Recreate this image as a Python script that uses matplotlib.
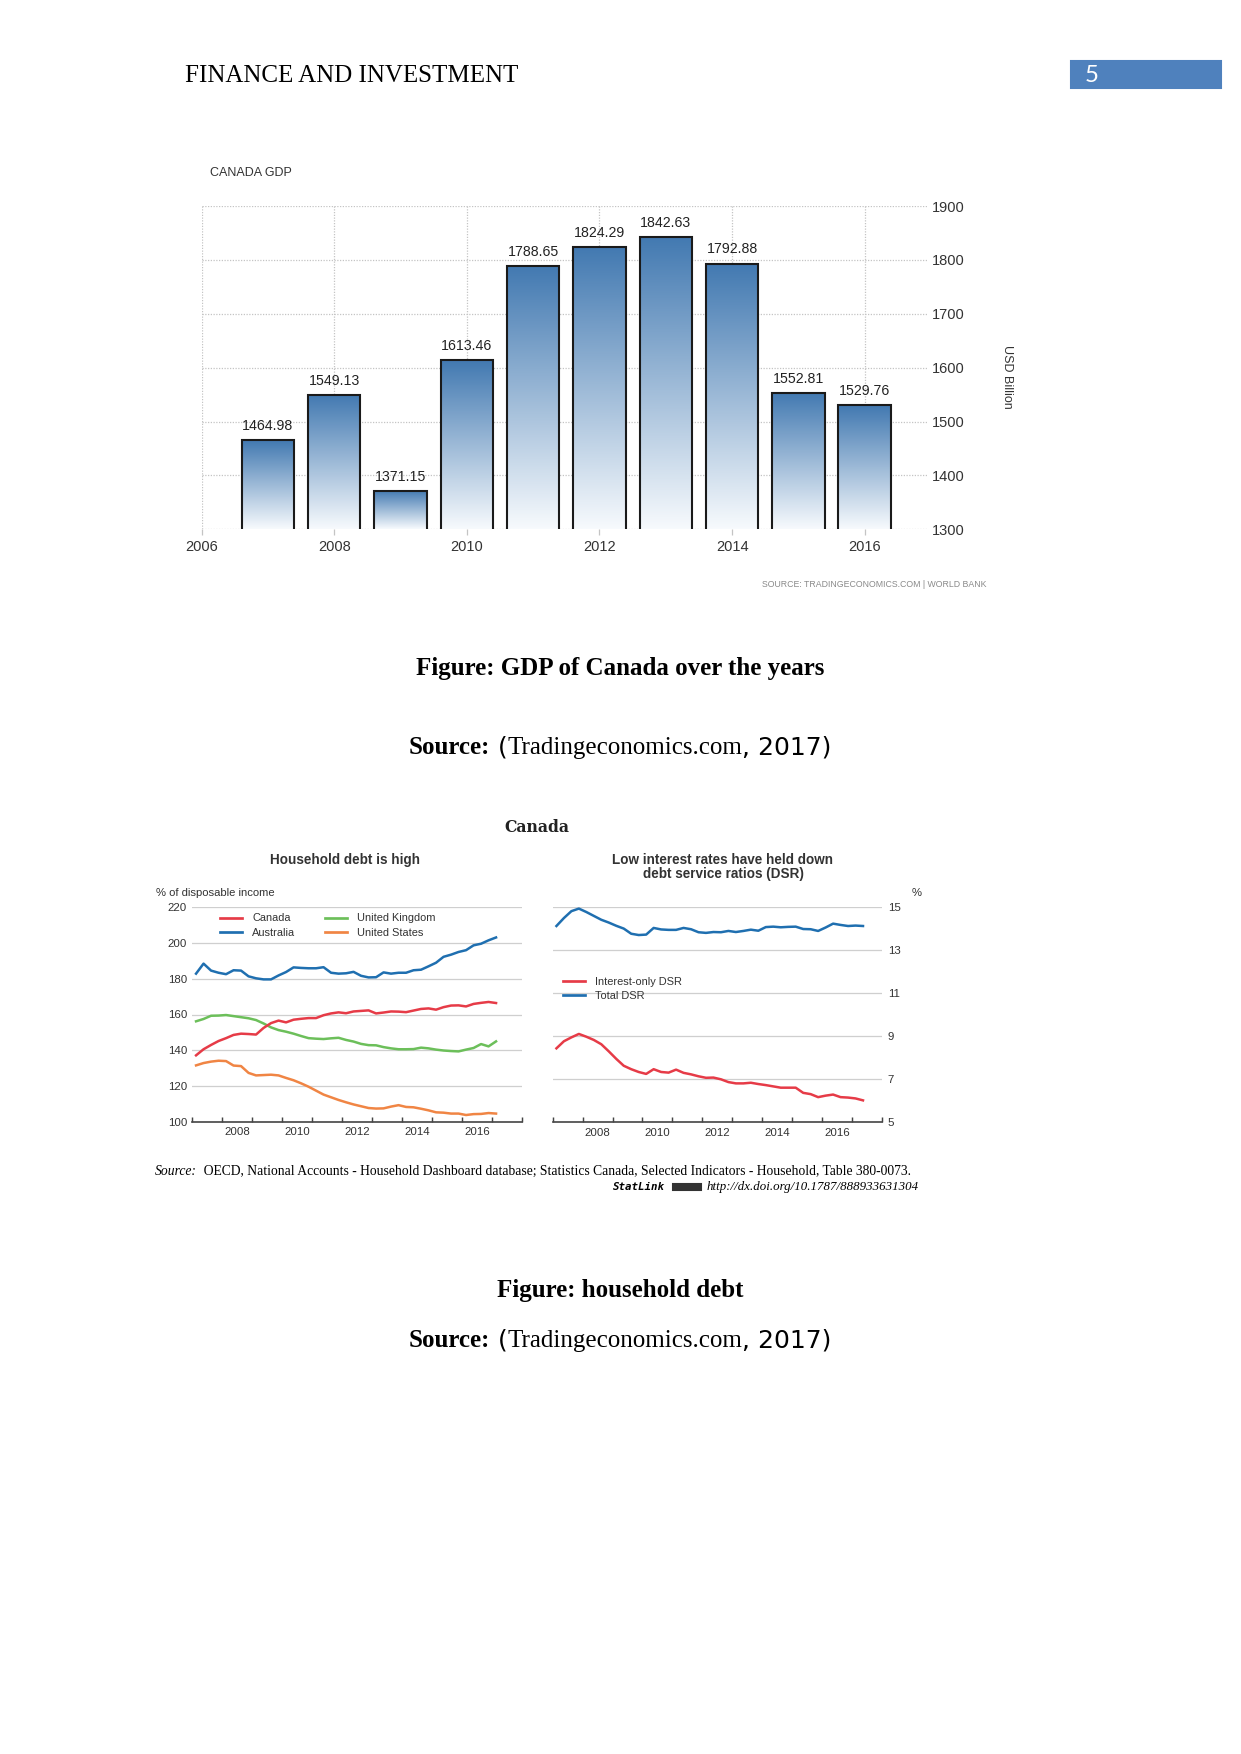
import matplotlib
matplotlib.use("Agg")
import matplotlib.pyplot as plt
import numpy as np
import pandas as pd
from matplotlib.colors import LinearSegmentedColormap
from matplotlib.patches import Rectangle
from matplotlib.lines import Line2D

W, H, DPI = 1241, 1754, 150

# Canada GDP, USD billion
gdp_years = [2007, 2008, 2009, 2010, 2011, 2012, 2013, 2014, 2015, 2016]
gdp_values = [1464.98, 1549.13, 1371.15, 1613.46, 1788.65, 1824.29, 1842.63, 1792.88, 1552.81, 1529.76]
gdp_xticks = [2006, 2008, 2010, 2012, 2014, 2016]
gdp_yticks = [1300, 1400, 1500, 1600, 1700, 1800, 1900]

# household debt, % of disposable income, quarterly 2007Q1-2017Q1
debt_quarters = pd.period_range("2007Q1", "2017Q1", freq="Q")
canada = [137.2, 140.6, 143.0, 145.2, 146.8, 148.6, 149.3, 149.1, 148.8, 152.5, 155.2,
          156.6, 155.6, 157.1, 157.6, 158.0, 158.0, 159.6, 160.6, 161.2, 160.7, 161.7,
          162.0, 162.3, 160.6, 161.1, 161.7, 161.6, 161.3, 162.2, 163.1, 163.4, 162.7,
          164.1, 165.0, 165.1, 164.5, 165.9, 166.5, 167.0, 166.4]
australia = [182.8, 188.4, 184.5, 183.3, 182.5, 184.7, 184.5, 181.3, 180.2, 179.6, 179.6,
             181.8, 183.7, 186.3, 186.0, 185.8, 185.8, 186.4, 183.3, 182.8, 183.0, 183.8,
             181.6, 180.7, 180.8, 183.5, 182.8, 183.3, 183.3, 184.7, 185.0, 186.9, 188.9,
             192.2, 193.4, 194.9, 195.9, 198.6, 199.5, 201.4, 203.0]
uk = [156.2, 157.5, 159.3, 159.4, 159.7, 159.1, 158.5, 157.9, 156.9, 155.0, 152.8,
      151.3, 150.4, 149.3, 148.0, 146.8, 146.5, 146.3, 146.7, 147.0, 145.8, 144.9,
      143.6, 142.9, 142.8, 141.8, 141.1, 140.6, 140.6, 140.7, 141.5, 141.1, 140.4,
      139.9, 139.6, 139.4, 140.4, 141.3, 143.5, 142.2, 145.0]
us = [131.6, 132.9, 133.7, 134.2, 134.0, 131.5, 131.2, 127.4, 126.0, 126.2, 126.4,
      126.0, 124.6, 123.3, 121.6, 119.7, 117.5, 115.3, 113.8, 112.3, 111.0, 109.8,
      108.8, 107.8, 107.5, 107.6, 108.6, 109.4, 108.4, 108.2, 107.4, 106.5, 105.4,
      105.2, 104.7, 104.7, 103.9, 104.4, 104.5, 105.0, 104.7]

# debt service ratios, %, quarterly 2007Q1-2017Q2
dsr_quarters = pd.period_range("2007Q1", "2017Q2", freq="Q")
interest_dsr = [8.44, 8.77, 8.95, 9.11, 8.98, 8.83, 8.63, 8.30, 7.95, 7.63, 7.47, 7.34,
                7.25, 7.47, 7.34, 7.31, 7.45, 7.30, 7.23, 7.14, 7.07, 7.08, 7.00, 6.87,
                6.81, 6.81, 6.84, 6.78, 6.73, 6.67, 6.61, 6.61, 6.61, 6.37, 6.31, 6.17,
                6.24, 6.29, 6.17, 6.15, 6.11, 6.02]
total_dsr = [14.13, 14.50, 14.82, 14.94, 14.78, 14.60, 14.42, 14.29, 14.14, 14.01, 13.77,
             13.71, 13.73, 14.04, 13.97, 13.95, 13.95, 14.04, 13.98, 13.84, 13.81, 13.85,
             13.84, 13.90, 13.85, 13.90, 13.96, 13.91, 14.08, 14.10, 14.07, 14.09, 14.10,
             13.99, 13.98, 13.90, 14.06, 14.24, 14.18, 14.13, 14.15, 14.13]
year_labels = ["2008", "2010", "2012", "2014", "2016"]

RED, BLUE, GREEN, ORANGE = "#e63b47", "#1f6fb0", "#6cbf5a", "#f08544"
SERIF = ["Liberation Serif", "DejaVu Serif"]
SANS = ["Liberation Sans", "DejaVu Sans"]

plt.rcParams["font.family"] = SANS

fig = plt.figure(figsize=(W / DPI, H / DPI), dpi=DPI)


def box(x0, y0, x1, y1):
    return [x0 / W, 1 - y1 / H, (x1 - x0) / W, (y1 - y0) / H]


def put(x, y, s, **kw):
    return fig.text(x / W, 1 - y / H, s, **kw)


def segments(x, y, parts, ha="left"):
    r = fig.canvas.get_renderer()
    arts = [fig.text(0, 0, s, va="center", **kw) for s, kw in parts]
    widths = [a.get_window_extent(r).width for a in arts]
    total = sum(widths)
    cur = {"left": x, "center": x - total / 2, "right": x - total}[ha]
    starts = []
    for a, w in zip(arts, widths):
        a.set_position((cur / W, 1 - y / H))
        starts.append(cur)
        cur += w
    return starts, widths


# page header
put(185, 76, "FINANCE AND INVESTMENT", family=SERIF, fontsize=12, va="center")
fig.patches.append(Rectangle((1071 / W, 1 - 88.4 / H), 150 / W, 27 / H,
                             transform=fig.transFigure, color="#4f81bd"))
put(1085, 76, "5", family=["Lato", "DejaVu Sans"], fontsize=11.5, color="white", va="center")

# ---------------- GDP chart
ax1 = fig.add_axes(box(201.7, 206, 928, 529.3))
cmap = LinearSegmentedColormap.from_list("gdp", ["#f7fafd", "#4279b1"])
bars = ax1.bar(gdp_years, gdp_values, width=0.79, color="none",
               edgecolor="#1a1a1a", linewidth=1.0, zorder=3)
grad = np.linspace(0, 1, 256).reshape(-1, 1)
for b, v in zip(bars, gdp_values):
    x0 = b.get_x()
    ax1.imshow(grad, extent=(x0, x0 + b.get_width(), 1300, v), origin="lower",
               cmap=cmap, aspect="auto", zorder=2)
    ax1.annotate(f"{v:.2f}", (x0 + b.get_width() / 2, v), xytext=(0, 3.5),
                 textcoords="offset points", ha="center", va="bottom",
                 fontsize=6.8, color="#222222")
ax1.set_xlim(2006, 2016.955)
ax1.set_ylim(1300, 1900)
ax1.set_xticks(gdp_xticks)
ax1.set_yticks(gdp_yticks)
ax1.yaxis.tick_right()
ax1.grid(True, linestyle=(0, (1, 1.2)), color="#c4c4c4", linewidth=0.6)
ax1.set_axisbelow(True)
for s in ax1.spines.values():
    s.set_visible(False)
ax1.tick_params(axis="y", length=0, pad=2, labelsize=7, labelcolor="#333333")
ax1.tick_params(axis="x", length=3, width=0.6, color="#c4c4c4", pad=2.3,
                labelsize=7, labelcolor="#333333")
put(210, 173.5, "CANADA GDP", fontsize=6.0, color="#333333", va="center")
put(1007, 377, "USD Billion", fontsize=6, color="#333333",
    rotation=270, ha="center", va="center")
put(987, 585, "SOURCE: TRADINGECONOMICS.COM | WORLD BANK",
    fontsize=4.2, color="#8a8a8a", ha="right", va="center")

put(620, 668, "Figure: GDP of Canada over the years", family=SERIF, fontsize=12,
    weight="bold", ha="center", va="center")
segments(620, 747.6, [("Source:", dict(family=SERIF, fontsize=12, weight="bold")),
                      (" (", dict(family="DejaVu Sans", fontsize=12)),
                      ("Tradingeconomics.com", dict(family=SERIF, fontsize=12)),
                      (", 2017)", dict(family="DejaVu Sans", fontsize=12))], ha="center")

# ---------------- OECD panels
put(537, 828, "Canada", family=["DejaVu Serif"], fontsize=7.5, weight="bold",
    color="#222222", ha="center", va="center")
put(345, 859.5, "Household debt is high", fontsize=6.5, weight="bold", color="#333333",
    ha="center", va="center")
put(723, 859.5, "Low interest rates have held down", fontsize=6.5, weight="bold",
    color="#333333", ha="center", va="center")
put(723, 874, "debt service ratios (DSR)", fontsize=6.5, weight="bold",
    color="#333333", ha="center", va="center")
put(156, 892.5, "% of disposable income", fontsize=5.4, color="#333333", va="center")
put(912, 892.5, "%", fontsize=5.4, color="#333333", va="center")


def style_panel(ax, yticks, right=False):
    ax.set_xlim(2007, 2018)
    ax.set_yticks(yticks)
    ax.yaxis.grid(True, color="#cfcfcf", linewidth=0.6)
    ax.set_axisbelow(True)
    for k in ("left", "right", "top"):
        ax.spines[k].set_visible(False)
    ax.spines["bottom"].set_color("#444444")
    ax.spines["bottom"].set_linewidth(0.8)
    ax.set_xticks([int(s) + 0.5 for s in year_labels])
    ax.set_xticklabels(year_labels)
    ax.set_xticks(range(2007, 2019), minor=True)
    ax.tick_params(axis="x", which="major", length=0, pad=2.5, labelsize=5.5,
                   labelcolor="#333333")
    ax.tick_params(axis="x", which="minor", length=2.2, width=0.7, direction="in",
                   color="#444444")
    if right:
        ax.yaxis.tick_right()
        ax.tick_params(axis="y", length=0, pad=3, labelsize=5.5, labelcolor="#333333")
    else:
        ax.tick_params(axis="y", length=0, pad=2.5, labelsize=5.5, labelcolor="#333333")


LW = 1.2
ax2 = fig.add_axes(box(192.3, 907, 522.3, 1122))
t_debt = debt_quarters.year + (debt_quarters.quarter - 0.5) / 4
ax2.plot(t_debt, us, color=ORANGE, lw=LW)
ax2.plot(t_debt, uk, color=GREEN, lw=LW)
ax2.plot(t_debt, australia, color=BLUE, lw=LW)
ax2.plot(t_debt, canada, color=RED, lw=LW)
ax2.set_ylim(100, 220)
style_panel(ax2, range(100, 221, 20))
h2 = [Line2D([], [], color=c, lw=1.3) for c in (RED, BLUE, GREEN, ORANGE)]
ax2.legend(h2, ["Canada", "Australia", "United Kingdom", "United States"], ncol=2,
           loc="upper left", bbox_to_anchor=(220 / W, 1 - 913.5 / H),
           bbox_transform=fig.transFigure, frameon=False, fontsize=5.3,
           handlelength=2.0, handletextpad=0.9, columnspacing=2.7,
           labelspacing=0.38, borderpad=0, borderaxespad=0, labelcolor="#333333")

ax3 = fig.add_axes(box(552.7, 907.3, 881.7, 1122.3))
t_dsr = dsr_quarters.year + (dsr_quarters.quarter - 0.5) / 4
ax3.plot(t_dsr, interest_dsr, color=RED, lw=LW)
ax3.plot(t_dsr, total_dsr, color=BLUE, lw=LW)
ax3.set_ylim(5, 15)
style_panel(ax3, range(5, 16, 2), right=True)
h3 = [Line2D([], [], color=c, lw=1.3) for c in (RED, BLUE)]
ax3.legend(h3, ["Interest-only DSR", "Total DSR"], loc="upper left",
           bbox_to_anchor=(563 / W, 1 - 977 / H), bbox_transform=fig.transFigure,
           frameon=False, fontsize=5.3, handlelength=2.0, handletextpad=0.9,
           labelspacing=0.38, borderpad=0, borderaxespad=0, labelcolor="#333333")

segments(155, 1171.5, [("Source:", dict(family=SERIF, fontsize=6.55, style="italic")),
                       ("  OECD, National Accounts - Household Dashboard database; Statistics "
                        "Canada, Selected Indicators - Household, Table 380-0073.",
                        dict(family=SERIF, fontsize=6.55))])
starts, widths = segments(919, 1187, [
    ("StatLink", dict(family="DejaVu Sans Mono", fontsize=5.2, weight="bold", style="italic")),
    ("             ", dict(family=SERIF, fontsize=6.2)),
    ("http://dx.doi.org/10.1787/888933631304", dict(family=SERIF, fontsize=6.2, style="italic"))],
    ha="right")
gap0, gapw = starts[1], widths[1]
fig.patches.append(Rectangle(((gap0 + 0.2 * gapw) / W, 1 - 1190 / H), 0.65 * gapw / W, 6 / H,
                             transform=fig.transFigure, color="#333333"))

put(620, 1290.7, "Figure: household debt", family=SERIF, fontsize=12, weight="bold",
    ha="center", va="center")
segments(620, 1340.7, [("Source:", dict(family=SERIF, fontsize=12, weight="bold")),
                       (" (", dict(family="DejaVu Sans", fontsize=12)),
                       ("Tradingeconomics.com", dict(family=SERIF, fontsize=12)),
                       (", 2017)", dict(family="DejaVu Sans", fontsize=12))], ha="center")

fig.savefig("out.png", dpi=DPI)
